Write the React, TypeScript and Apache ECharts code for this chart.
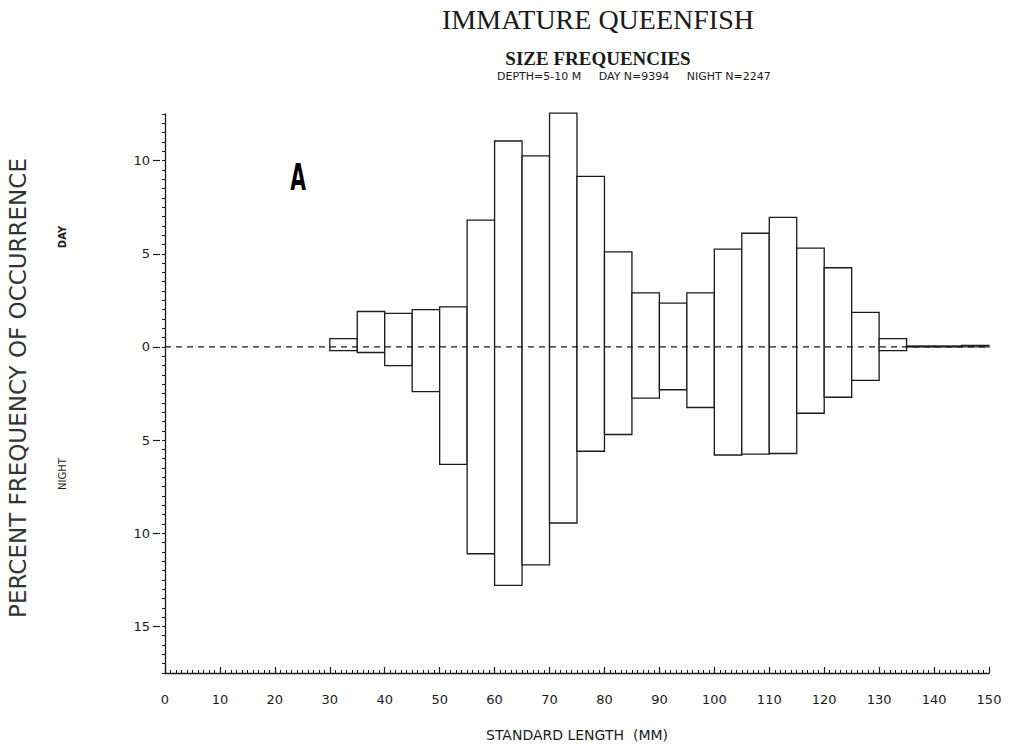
import React, { useEffect, useRef } from "react";
import * as echarts from "echarts";

const binStart = [30, 35, 40, 45, 50, 55, 60, 65, 70, 75, 80, 85, 90, 95, 100, 105, 110, 115, 120, 125, 130, 135, 140, 145];
const binWidth = 5;
const dayPct = [0.45, 1.9, 1.8, 2.0, 2.15, 6.8, 11.05, 10.25, 12.55, 9.15, 5.1, 2.9, 2.35, 2.9, 5.25, 6.1, 6.95, 5.3, 4.25, 1.85, 0.45, 0.05, 0.05, 0.08];
const nightPct = [0.2, 0.3, 1.0, 2.4, 6.3, 11.1, 12.8, 11.7, 9.45, 5.6, 4.7, 2.75, 2.3, 3.25, 5.8, 5.75, 5.72, 3.56, 2.7, 1.8, 0.2, 0, 0, 0];
const yMajorTicks = [-15, -10, -5, 0, 5, 10];

const titleText = "IMMATURE QUEENFISH";
const subtitleText = "SIZE FREQUENCIES";
const infoText = "DEPTH=5-10 M     DAY N=9394     NIGHT N=2247";
const yTitle = "PERCENT FREQUENCY OF OCCURRENCE";
const xTitle = "STANDARD LENGTH  (MM)";
const panelLabel = "A";

const SANS = "'DejaVu Sans', 'Liberation Sans', sans-serif";
const SERIF = "'Liberation Serif', 'DejaVu Serif', serif";
const INK = "#1a1a1a";

export default function App() {
  const ref = useRef<HTMLDivElement>(null);
  useEffect(() => {
    if (!ref.current) return;
    const chart = echarts.init(ref.current, null, { renderer: "svg" });
    const data = binStart.map((s, i) => [s, s + binWidth, dayPct[i], nightPct[i]]);
    chart.setOption({
      animation: false,
      backgroundColor: "#fff",
      grid: { left: 165, top: 114, width: 824, height: 559, containLabel: false },
      xAxis: {
        type: "value",
        min: 0,
        max: 150,
        interval: 10,
        axisLine: { show: true, onZero: false, lineStyle: { color: INK, width: 1.3 } },
        axisTick: { show: true, inside: true, length: 6, lineStyle: { color: INK, width: 1.2 } },
        minorTick: { show: true, splitNumber: 10, length: 3, lineStyle: { color: INK, width: 1 } },
        axisLabel: { color: INK, fontFamily: SANS, fontSize: 13, margin: 20 },
        splitLine: { show: false },
        minorSplitLine: { show: false },
      },
      yAxis: [
        {
          type: "value",
          min: -17.5,
          max: 12.5,
          interval: 0.5,
          offset: 5,
          axisLine: { show: true, lineStyle: { color: INK, width: 1.3 } },
          axisTick: { show: true, length: 3, lineStyle: { color: INK, width: 1 } },
          axisLabel: { show: false },
          splitLine: { show: false },
        },
        {
          type: "value",
          min: -17.5,
          max: 12.5,
          offset: 5,
          position: "left",
          axisLine: { show: false },
          axisTick: { show: true, length: 7, customValues: yMajorTicks, lineStyle: { color: INK, width: 1.2 } },
          axisLabel: {
            show: true,
            customValues: yMajorTicks,
            color: INK,
            fontFamily: SANS,
            fontSize: 13,
            margin: 10,
            formatter: (v: number) => String(Math.abs(v)),
          },
          splitLine: { show: false },
        },
      ],
      series: [
        {
          type: "custom",
          data,
          encode: { x: [0, 1], y: [2] },
          renderItem: (params: any, api: any) => {
            const x0 = api.value(0);
            const x1 = api.value(1);
            const d = api.value(2);
            const n = api.value(3);
            const pTop = api.coord([x0, d]);
            const pBot = api.coord([x1, -n]);
            return {
              type: "rect",
              shape: { x: pTop[0], y: pTop[1], width: pBot[0] - pTop[0], height: pBot[1] - pTop[1] },
              style: { fill: "#fff", stroke: INK, lineWidth: 1.3 },
            };
          },
          z: 2,
        },
        {
          type: "line",
          data: [[0, 0], [150, 0]],
          symbol: "none",
          lineStyle: { color: INK, width: 1.2, type: [6, 5] },
          z: 5,
        },
      ],
      graphic: [
        {
          type: "text",
          x: 598,
          y: 19,
          style: { text: titleText, font: `28px ${SERIF}`, fill: INK, textAlign: "center", textVerticalAlign: "middle" },
        },
        {
          type: "text",
          x: 598,
          y: 58,
          style: { text: subtitleText, font: `bold 19px ${SERIF}`, fill: INK, textAlign: "center", textVerticalAlign: "middle" },
        },
        {
          type: "text",
          x: 497,
          y: 76,
          style: { text: infoText, font: `11px ${SANS}`, fill: INK, textAlign: "left", textVerticalAlign: "middle" },
        },
        {
          type: "text",
          x: 18,
          y: 388,
          rotation: Math.PI / 2,
          style: { text: yTitle, font: `23px ${SANS}`, fill: "#333", textAlign: "center", textVerticalAlign: "middle" },
        },
        {
          type: "text",
          x: 62,
          y: 237,
          rotation: Math.PI / 2,
          style: { text: "DAY", font: `bold 10px ${SANS}`, fill: INK, textAlign: "center", textVerticalAlign: "middle" },
        },
        {
          type: "text",
          x: 62,
          y: 474,
          rotation: Math.PI / 2,
          style: { text: "NIGHT", font: `10px ${SANS}`, fill: INK, textAlign: "center", textVerticalAlign: "middle" },
        },
        {
          type: "text",
          x: 298,
          y: 177,
          scaleX: 0.55,
          style: {
            text: panelLabel,
            font: `bold 37px ${SANS}`,
            fill: "#000",
            textAlign: "center",
            textVerticalAlign: "middle",
          },
        },
        {
          type: "text",
          x: 577,
          y: 735,
          style: { text: xTitle, font: `14px ${SANS}`, fill: INK, textAlign: "center", textVerticalAlign: "middle" },
        },
      ],
    });
    return () => chart.dispose();
  }, []);
  return <div ref={ref} style={{ position: "fixed", left: 0, top: 0, width: 1019, height: 745, background: "#fff" }} />;
}
